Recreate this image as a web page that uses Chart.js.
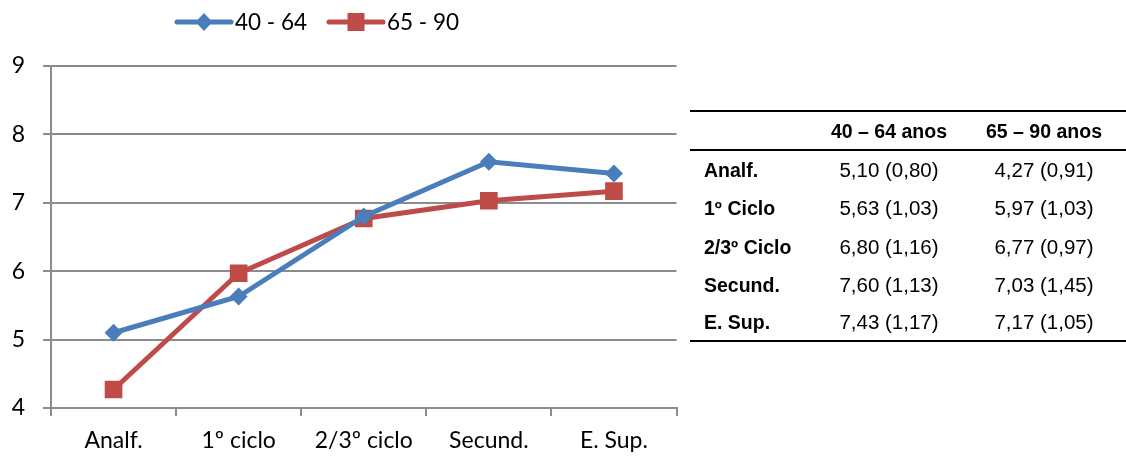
<!DOCTYPE html>
<html>
<head>
<meta charset="utf-8">
<script src="https://cdn.jsdelivr.net/npm/chart.js@4/dist/chart.umd.min.js"></script>
<style>
  html, body { margin: 0; padding: 0; background: #fff; }
  body { width: 1126px; height: 458px; position: relative; overflow: hidden; }
  #wrap { position: absolute; left: 0; top: 0; width: 689px; height: 458px; }
  #tbl { position: absolute; left: 0; top: 0; width: 1126px; height: 458px; font-family: "Liberation Sans", Arial, sans-serif; color: #000; }
  .rule { position: absolute; left: 690px; width: 436px; height: 2px; background: #000; }
  .cell { position: absolute; white-space: nowrap; line-height: 24px; height: 24px; }
  .hdr { font-weight: bold; font-size: 19.5px; }
  .lab { font-weight: bold; font-size: 19.5px; }
  .val { font-size: 20.5px; }
</style>
</head>
<body>
<div id="wrap"><canvas id="c"></canvas></div>
<div id="tbl"></div>
<script>
// ---- data ----
const categories = ['Analf.', '1º ciclo', '2/3º ciclo', 'Secund.', 'E. Sup.'];
const seriesNames = ['40 - 64', '65 - 90'];
const values4064 = [5.10, 5.63, 6.80, 7.60, 7.43];
const values6590 = [4.27, 5.97, 6.77, 7.03, 7.17];
const sd4064 = [0.80, 1.03, 1.16, 1.13, 1.17];
const sd6590 = [0.91, 1.03, 0.97, 1.45, 1.05];
const tableRowLabels = ['Analf.', '1º Ciclo', '2/3º Ciclo', 'Secund.', 'E. Sup.'];
const tableHeaders = ['40 – 64 anos', '65 – 90 anos'];
const yTicks = [4, 5, 6, 7, 8, 9];

const BLUE = '#4A7EBB';
const RED = '#BE4B48';
const GRID = '#8C8C8C';
const FONT = 'Lato, "Open Sans", sans-serif';

// custom legend (line + marker + text)
const lineLegend = {
  id: 'lineLegend',
  afterDraw(chart) {
    const ctx = chart.ctx;
    const items = [{x: 177, ds: 0}, {x: 329, ds: 1}];
    const y = 22;
    ctx.save();
    items.forEach(it => {
      const ds = chart.data.datasets[it.ds];
      ctx.strokeStyle = ds.borderColor;
      ctx.lineWidth = 5;
      ctx.lineCap = 'round';
      ctx.beginPath();
      ctx.moveTo(it.x, y);
      ctx.lineTo(it.x + 54, y);
      ctx.stroke();
      const cx = it.x + 27;
      ctx.fillStyle = ds.pointBackgroundColor;
      ctx.beginPath();
      if (ds.pointStyle === 'rectRot') {
        ctx.moveTo(cx, y - 9); ctx.lineTo(cx + 8.5, y); ctx.lineTo(cx, y + 9); ctx.lineTo(cx - 8.5, y);
        ctx.closePath();
      } else {
        ctx.rect(cx - 8.5, y - 9, 17, 18);
      }
      ctx.fill();
      ctx.fillStyle = '#000';
      ctx.font = '22.5px ' + FONT;
      ctx.textBaseline = 'middle';
      ctx.textAlign = 'left';
      ctx.fillText(ds.label, it.x + 58, y + 1);
    });
    ctx.restore();
  }
};

new Chart(document.getElementById('c'), {
  type: 'line',
  data: {
    labels: categories,
    datasets: [
      { label: seriesNames[0], data: values4064, borderColor: BLUE, backgroundColor: BLUE,
        pointBackgroundColor: BLUE, pointBorderColor: BLUE, borderWidth: 5,
        pointStyle: 'rectRot', pointRadius: 9, pointBorderWidth: 0, tension: 0 },
      { label: seriesNames[1], data: values6590, borderColor: RED, backgroundColor: RED,
        pointBackgroundColor: RED, pointBorderColor: RED, borderWidth: 5,
        pointStyle: 'rect', pointRadius: 12.5, pointBorderWidth: 0, tension: 0 }
    ]
  },
  options: {
    responsive: true,
    maintainAspectRatio: false,
    animation: false,
    events: [],
    layout: { padding: { top: 66, right: 3, bottom: 0, left: 0 } },
    plugins: { legend: { display: false }, tooltip: { enabled: false } },
    scales: {
      x: {
        offset: true,
        grid: { offset: true, drawOnChartArea: false, drawTicks: true, tickLength: 8, color: GRID, lineWidth: 2 },
        border: { color: GRID, width: 2 },
        ticks: { color: '#000', font: { family: FONT, size: 23 }, padding: 11, maxRotation: 0, autoSkip: false },
        afterFit(s) { s.height = 50; }
      },
      y: {
        min: 4, max: 9,
        afterBuildTicks(s) { s.ticks = yTicks.map(v => ({ value: v })); },
        grid: { color: GRID, lineWidth: 2, tickLength: 8 },
        border: { color: GRID, width: 2 },
        ticks: { color: '#000', font: { family: FONT, size: 23 }, padding: 18 },
        afterFit(s) { s.width = 51; }
      }
    }
  },
  plugins: [lineLegend]
});

// ---- table ----
const tbl = document.getElementById('tbl');
function add(cls, text, style) {
  const d = document.createElement('div');
  d.className = cls;
  if (text !== null) d.textContent = text;
  Object.assign(d.style, style);
  tbl.appendChild(d);
  return d;
}
const fmt = v => v.toFixed(2).replace('.', ',');
add('rule', null, { top: '110px' });
add('rule', null, { top: '149px' });
add('rule', null, { top: '340px' });
const colCenters = [889, 1044];
tableHeaders.forEach((h, i) => {
  add('cell hdr', h, { left: (colCenters[i] - 80) + 'px', width: '160px', textAlign: 'center', top: (131 - 12) + 'px' });
});
const rowY = [170, 208, 247, 285, 322];
tableRowLabels.forEach((lab, r) => {
  add('cell lab', lab, { left: '704px', top: (rowY[r] - 12) + 'px' });
  add('cell val', fmt(values4064[r]) + ' (' + fmt(sd4064[r]) + ')', { left: (colCenters[0] - 80) + 'px', width: '160px', textAlign: 'center', top: (rowY[r] - 12) + 'px' });
  add('cell val', fmt(values6590[r]) + ' (' + fmt(sd6590[r]) + ')', { left: (colCenters[1] - 80) + 'px', width: '160px', textAlign: 'center', top: (rowY[r] - 12) + 'px' });
});
</script>
</body>
</html>
